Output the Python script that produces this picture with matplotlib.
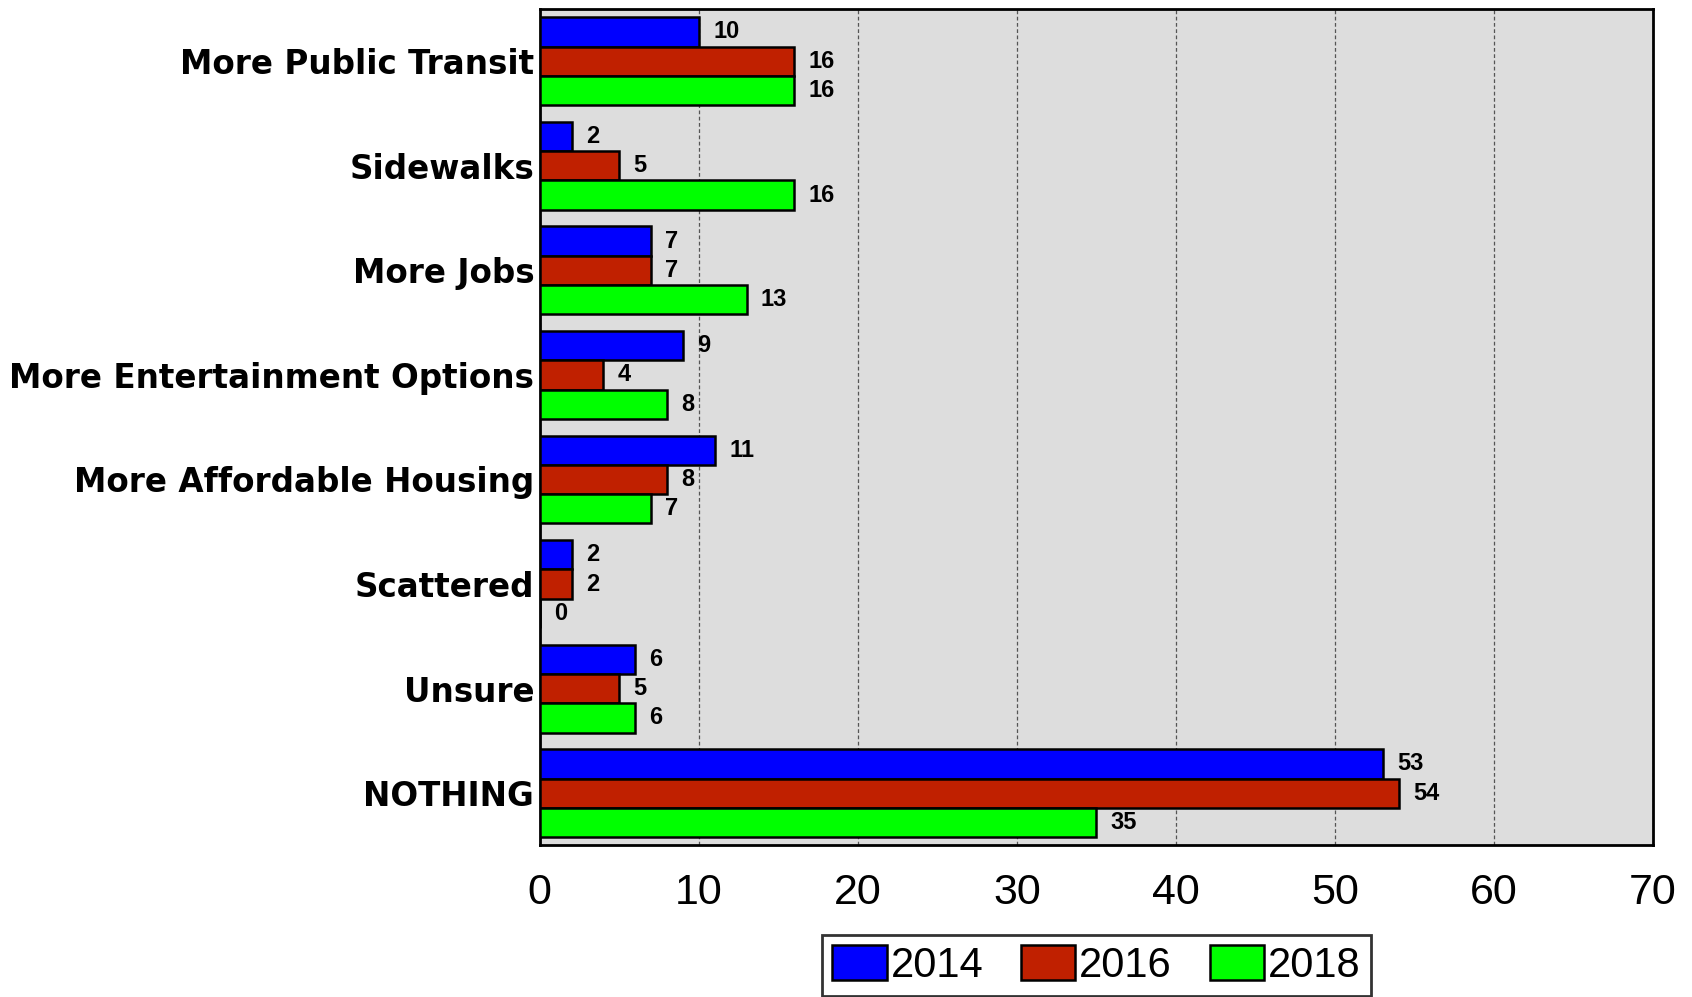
import numpy as np
import matplotlib.pyplot as plt

# данные
categories = ['More Public Transit', 'Sidewalks', 'More Jobs', 'More Entertainment Options',
              'More Affordable Housing', 'Scattered', 'Unsure', 'NOTHING']
years = ['2014', '2016', '2018']
values_2014 = [10, 2, 7, 9, 11, 2, 6, 53]
values_2016 = [16, 5, 7, 4, 8, 2, 5, 54]
values_2018 = [16, 16, 13, 8, 7, 0, 6, 35]
colors = ['#0000FF', '#C02000', '#00FF00']

plt.rcParams['font.family'] = ['Liberation Sans', 'DejaVu Sans']

fig = plt.figure(figsize=(16.92, 9.97), dpi=100)
ax = fig.add_axes([0.319, 0.152, 0.658, 0.839])
ax.set_facecolor('#DDDDDD')

y = np.arange(len(categories))
h = 0.28
series = [values_2014, values_2016, values_2018]
for k, (vals, col, yr) in enumerate(zip(series, colors, years)):
    pos = y + (k - 1) * h
    ax.barh(pos, vals, height=h, color=col, edgecolor='black', linewidth=1.8, label=yr, zorder=3)
    for p, v in zip(pos, vals):
        ax.text(v + 0.9, p, str(v), va='center', ha='left', fontsize=17, fontweight='bold', zorder=4)

ax.set_xlim(0, 70)
ax.set_ylim(len(categories) - 0.5, -0.5)
ax.set_xticks(range(0, 71, 10))
ax.tick_params(axis='x', labelsize=31, length=0, pad=20)
ax.set_yticks(y)
ax.set_yticklabels(categories, fontsize=23.5, fontweight='bold', family='DejaVu Sans')
ax.tick_params(axis='y', length=0, pad=4)
ax.xaxis.grid(True, linestyle=(0, (3, 2)), color='#555555', linewidth=0.9, zorder=1)
ax.set_axisbelow(True)
for s in ax.spines.values():
    s.set_linewidth(2)

leg = ax.legend(loc='upper center', bbox_to_anchor=(0.5, -0.1), ncol=3, fontsize=30,
                frameon=True, fancybox=False, edgecolor='black', handlelength=1.3,
                handleheight=0.9, handletextpad=0.1, columnspacing=0.9, borderpad=0.25)
leg.set_bbox_to_anchor((0.5, -0.082), transform=ax.transAxes)
leg.get_frame().set_linewidth(2)

fig.savefig('out.png', dpi=100)
